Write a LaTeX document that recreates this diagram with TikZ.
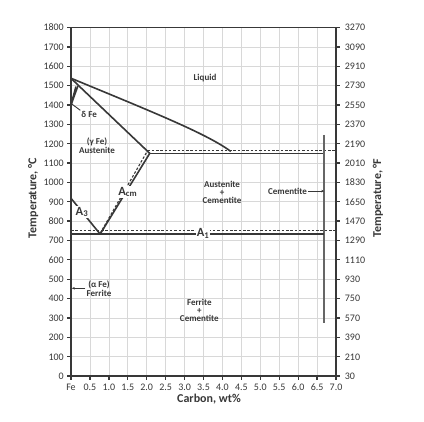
\documentclass[tikz,border=0pt]{standalone}
\usepackage{fontspec}
\setmainfont{Carlito}
\usetikzlibrary{arrows.meta}
\definecolor{ln}{HTML}{383838}
\definecolor{gridc}{HTML}{D8D8D8}
\definecolor{vln}{HTML}{666666}
\tikzset{
 gridl/.style={draw=gridc, line width=0.7pt},
 axl/.style={draw=ln, line width=1.3pt},
 ph/.style={draw=ln, line width=1.6pt},
 dsh/.style={draw=ln, line width=1.1pt, dash pattern=on 2.5pt off 1.8pt},
 tick/.style={font=\fontsize{10}{11}\selectfont, text=ln, inner sep=0pt},
 lab/.style={font=\bfseries\fontsize{9}{9}\selectfont, text=ln, align=center, inner sep=1pt},
 labt/.style={font=\bfseries\fontsize{9}{8.2}\selectfont, text=ln, align=center, inner sep=1pt},
 alab/.style={font=\bfseries\fontsize{12.5}{14}\selectfont, text=ln, fill=white, inner sep=0.8pt},
 ttl/.style={font=\bfseries\fontsize{12}{14}\selectfont, text=ln},
}
\begin{document}
\begin{tikzpicture}[x=1pt,y=1pt]
\fill[white] (0,0) rectangle (424,422);
\useasboundingbox (0,0) rectangle (424,422);
\begin{scope}[shift={(71,46)}, x=37.86pt, y=0.19361pt]
% grid
\foreach \c in {0.5,1,...,6.5} \draw[gridl] (\c,0) -- (\c,1800);
\foreach \t in {100,200,...,1700} \draw[gridl] (0,\t) -- (7,\t);
% vertical ticks and labels
\foreach \t [count=\k from 0] in {0,100,...,1800} {
  \pgfmathtruncatemacro\f{30+180*\k}
  \draw[axl] (0,\t) -- ++(-4pt,0);
  \draw[axl] (7,\t) -- ++(4pt,0);
  \node[tick, anchor=base east, xshift=-7pt, yshift=-3.4pt] (tl\k) at (0,\t) {\t};
  \node[tick, anchor=base west, xshift=8.7pt, yshift=-3.4pt] (tr\k) at (7,\t) {\f};
}
% horizontal ticks and labels
\foreach \c/\l [count=\k] in {0/Fe,0.5/0.5,1/1.0,1.5/1.5,2/2.0,2.5/2.5,3/3.0,3.5/3.5,4/4.0,4.5/4.5,5/5.0,5.5/5.5,6/6.0,6.5/6.5,7/7.0} {
  \draw[axl] (\c,0) -- ++(0,-4pt);
  \node[tick, anchor=base, yshift=-15pt] (tb\k) at (\c,0) {\l};
}
% frame
\draw[axl] (0,0) rectangle (7,1800);
% phase lines
\draw[ph] (0,1538) .. controls (2.2,1360) and (3.6,1250) .. (4.22,1160);
\draw[ph] (0,1538) -- (0.2,1500) -- (2.08,1150);
\draw[ph] (0,1400) -- (0.13,1495);
\draw[ph] (0,1400) -- (0.18,1497);
\draw[ph] (2.08,1150) -- (6.69,1150);
\draw[dsh] (2.02,1163) -- (7,1163);
\draw[draw=vln, line width=1.6pt] (6.69,1245) -- (6.69,275);
\draw[ph] (0,733) -- (6.69,733);
\draw[dsh] (0,752) -- (7,752);
\draw[ph] (0,918) -- (0.77,733);
\draw[ph] (0.77,733) -- (2.08,1150);
\draw[dsh] (0.77,737) -- (2.02,1163);
% line labels
\node[alab] (a3) at (0.29,847) {A\textsubscript{3}};
\node[alab] (acm) at (1.5,950) {A\textsubscript{cm}};
\node[alab] (a1) at (3.49,736) {A\textsubscript{1}};
% region labels
\node[lab] (liq) at (3.54,1539) {Liquid};
\node[lab] (dfe) at (0.48,1350) {δ Fe};
\coordinate (dtip) at (0.02,1405);
\draw[draw=ln, line width=0.9pt] (dtip) -- (dfe.north west);
\node[lab] (aus) at (0.687,1187) {(γ Fe)\\Austenite};
\node[labt] (ac) at (3.99,947) {Austenite\\+\\Cementite};
\node[lab] (cem) at (5.72,955) {Cementite};
\coordinate (cemtip) at (6.69,955);
\draw[draw=ln, line width=0.9pt, -{Stealth[length=3pt,width=2.5pt]}] (cem.east) -- (cemtip);
\node[lab] (afer) at (0.74,453) {(α Fe)\\Ferrite};
\coordinate (fertip) at (0.02,453);
\draw[draw=ln, line width=0.9pt, -{Stealth[length=3pt,width=2.5pt]}] (afer.west) -- (fertip);
\node[labt] (fc) at (3.39,340) {Ferrite\\+\\Cementite};
% axis titles
\node[ttl, rotate=90] (ytl) at (-1.0,919) {Temperature, °C};
\node[ttl, rotate=90] (ytr) at (8.11,919) {Temperature, °F};
\node[ttl] (xt) at (3.645,-119) {Carbon, wt\%};
\end{scope}
\end{tikzpicture}
\end{document}
